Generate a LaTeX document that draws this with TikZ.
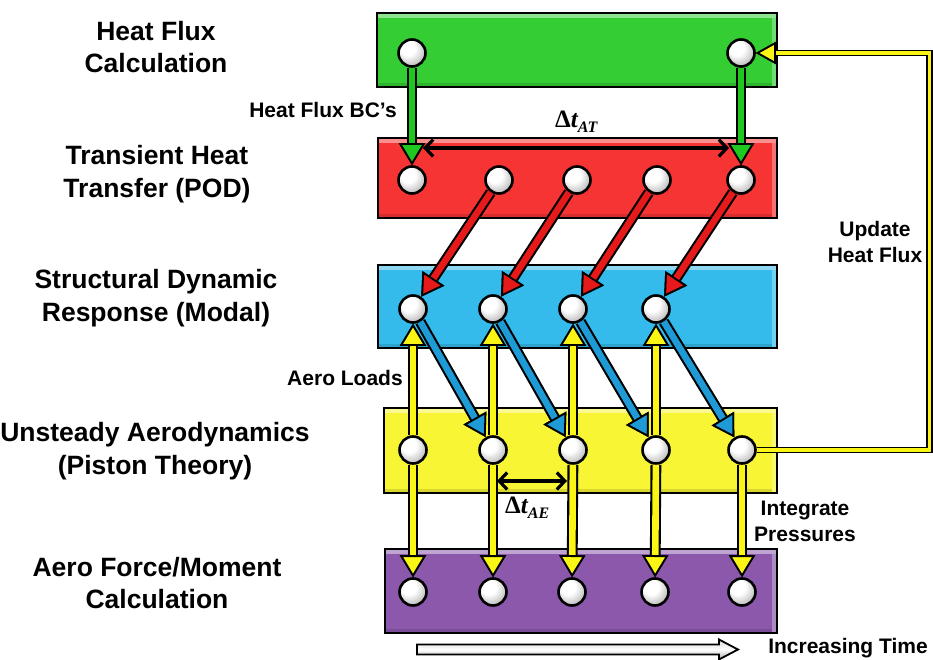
\documentclass[tikz,border=0pt]{standalone}
\usepackage{fontspec}
\setmainfont{Liberation Sans}
\newfontfamily\timesf{Liberation Serif}
\usetikzlibrary{arrows.meta}
\definecolor{bxgreen}{RGB}{52,206,52}
\definecolor{bxred}{RGB}{246,52,52}
\definecolor{bxblue}{RGB}{52,187,235}
\definecolor{bxyellow}{RGB}{248,245,52}
\definecolor{bxpurple}{RGB}{140,88,172}
\definecolor{argreen}{RGB}{30,200,30}
\definecolor{arred}{RGB}{230,26,26}
\definecolor{arblue}{RGB}{30,155,215}
\definecolor{aryellow}{RGB}{250,245,20}
\pgfdeclareradialshading{ballsh}{\pgfpoint{-10bp}{12bp}}{color(0bp)=(white); color(14bp)=(white); color(30bp)=(black!25); color(42bp)=(black!55); color(60bp)=(black!70)}
\tikzset{
  ball/.style={circle, minimum size=27pt, inner sep=0pt, draw=black, line width=2.6pt, shade, shading=ballsh},
  box/.style={rectangle, draw=black, line width=1.8pt, fill=#1, inner sep=0pt},
  biglabel/.style={font=\bfseries\fontsize{26.5}{32.5}\selectfont, align=center},
  smalllabel/.style={font=\bfseries\fontsize{21}{26}\selectfont, align=center},
  flow/.style={line width=6.6pt, draw=#1,
    preaction={draw=black, line width=10.8pt, -{Triangle[length=22pt,width=26pt,line width=1.8pt,color=black]}},
    -{Triangle[length=22pt,width=26pt,line width=1.8pt,color=black,fill=#1]}},
  feedback/.style={line width=3.6pt, draw=#1,
    preaction={draw=black, line width=6.6pt, -{Triangle[length=20pt,width=22pt,line width=1.8pt,color=black]}},
    -{Triangle[length=20pt,width=22pt,line width=1.8pt,color=black,fill=#1]}},
  dtarrow/.style={line width=3.4pt, black, {Straight Barb[length=8pt,width=17pt,line width=3.2pt]}-{Straight Barb[length=8pt,width=17pt,line width=3.2pt]}},
  dtlabel/.style={anchor=base west, inner sep=0pt, font=\timesf\bfseries\fontsize{25}{25}\selectfont},
}
\newcommand{\bevel}[1]{%
  \fill[white,opacity=0.45] ([xshift=2pt,yshift=-2pt]#1.north west) rectangle ([xshift=-2pt,yshift=-6pt]#1.north east);
  \fill[white,opacity=0.3] ([xshift=-6pt,yshift=-6pt]#1.north east) rectangle ([xshift=-2pt,yshift=2pt]#1.south east);
  \fill[black,opacity=0.12] ([xshift=2pt,yshift=2pt]#1.south west) rectangle ([xshift=-6pt,yshift=5pt]#1.south east);
}
\begin{document}
\begin{tikzpicture}[x=1pt,y=-1pt]
\useasboundingbox (0,0) rectangle (933,660);
% boxes
\node[box=bxgreen, minimum width=400pt, minimum height=74pt] (G) at (577,50) {};
\node[box=bxred, minimum width=399pt, minimum height=80pt] (R) at (577.5,178) {};
\node[box=bxblue, minimum width=399pt, minimum height=83pt] (B) at (577.5,306.5) {};
\node[box=bxyellow, minimum width=393pt, minimum height=85pt] (Y) at (580.5,450.5) {};
\node[box=bxpurple, minimum width=392pt, minimum height=84pt] (P) at (581,591) {};
\bevel{G}\bevel{R}\bevel{B}\bevel{Y}\bevel{P}
% circles
\node[ball] (g1) at (412,53) {};
\node[ball] (g2) at (741,53) {};
\node[ball] (r1) at (412,180) {};
\node[ball] (r2) at (499,180) {};
\node[ball] (r3) at (577,180) {};
\node[ball] (r4) at (657,180) {};
\node[ball] (r5) at (741,180) {};
\node[ball] (b1) at (413,309) {};
\node[ball] (b2) at (493,309) {};
\node[ball] (b3) at (573,309) {};
\node[ball] (b4) at (656,309) {};
\node[ball] (y1) at (413,450) {};
\node[ball] (y2) at (493,450) {};
\node[ball] (y3) at (573,450) {};
\node[ball] (y4) at (656,450) {};
\node[ball] (y5) at (742,450) {};
\node[ball] (p1) at (413,592) {};
\node[ball] (p2) at (493,592) {};
\node[ball] (p3) at (572,592) {};
\node[ball] (p4) at (655,592) {};
\node[ball] (p5) at (742,592) {};
% connectors
\draw[flow=argreen] (g1) -- (r1);
\draw[flow=argreen] (g2) -- (r5);
\draw[flow=arred] (r2) -- (b1);
\draw[flow=arred] (r3) -- (b2);
\draw[flow=arred] (r4) -- (b3);
\draw[flow=arred] (r5) -- (b4);
\draw[flow=arblue] (b1) -- (y2);
\draw[flow=arblue] (b2) -- (y3);
\draw[flow=arblue] (b3) -- (y4);
\draw[flow=arblue] (b4) -- (y5);
\draw[flow=aryellow] (y1) -- (b1);
\draw[flow=aryellow] (y2) -- (b2);
\draw[flow=aryellow] (y3) -- (b3);
\draw[flow=aryellow] (y4) -- (b4);
\draw[flow=aryellow] (y1) -- (p1);
\draw[flow=aryellow] (y2) -- (p2);
\draw[flow=aryellow] (y3) -- (p3);
\draw[flow=aryellow] (y4) -- (p4);
\draw[flow=aryellow] (y5) -- (p5);
\coordinate (fb1) at (929.5,450);
\coordinate (fb2) at (929.5,53);
\draw[feedback=aryellow] (y5) -- (fb1) -- (fb2) -- (g2);
% delta t arrows
\coordinate (at1) at (423,148);
\coordinate (at2) at (729,148);
\draw[dtarrow] (at1) -- (at2);
\coordinate (ae1) at (497,481);
\coordinate (ae2) at (567,481);
\draw[dtarrow] (ae1) -- (ae2);
\node[dtlabel] (dtat) at (555,128) {Δ\itshape t\raisebox{-5pt}{\fontsize{16}{16}\selectfont AT}};
\node[dtlabel] (dtae) at (505,513) {Δ\itshape t\raisebox{-5pt}{\fontsize{16}{16}\selectfont AE}};
% time arrow
\draw[line width=1.8pt, black, top color=gray!30, bottom color=gray!65, middle color=white]
  (417,644.5) -- (719,644.5) -- (719,639.5) -- (738,649.5) -- (719,659.5) -- (719,654.5) -- (417,654.5) -- cycle;
% labels
\node[biglabel] (l1) at (156,47) {Heat Flux\\Calculation};
\node[biglabel] (l2) at (157,174) {Transient Heat\\Transfer (POD)};
\node[biglabel] (l3) at (156,298) {Structural Dynamic\\Response (Modal)};
\node[biglabel] (l4) at (155,451) {Unsteady Aerodynamics\\(Piston Theory)};
\node[biglabel] (l5) at (157,583) {Aero Force/Moment\\Calculation};
\node[smalllabel] (s1) at (323,110) {Heat Flux BC’s};
\node[smalllabel] (s2) at (345,378) {Aero Loads};
\node[smalllabel] (s3) at (875,242) {Update\\Heat Flux};
\node[smalllabel] (s4) at (805,521) {Integrate\\Pressures};
\node[smalllabel] (s5) at (848,648) {Increasing Time};
\end{tikzpicture}
\end{document}
